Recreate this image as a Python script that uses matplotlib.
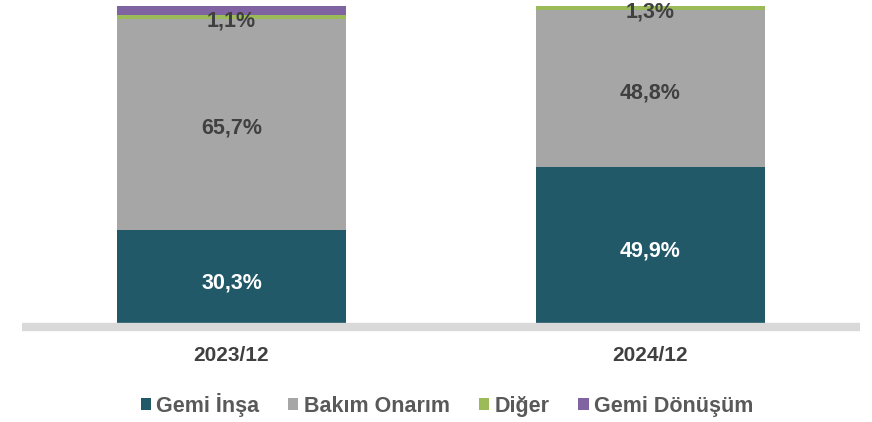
import numpy as np
import matplotlib.pyplot as plt
from matplotlib.patches import Patch

plt.rcParams['font.family'] = ['Liberation Sans', 'DejaVu Sans']

periods = ['2023/12', '2024/12']
series = ['Gemi İnşa', 'Bakım Onarım', 'Diğer', 'Gemi Dönüşüm']
gemi_insa = [30.3, 49.9]
bakim_onarim = [65.7, 48.8]
diger = [1.1, 1.3]
gemi_donusum = [2.9, 0.0]

colors = ['#215968', '#A6A6A6', '#9BBB59', '#8064A2']
label_colors = ['white', '#404040', '#404040', None]

fig = plt.figure(figsize=(8.72, 4.22), dpi=100)
ax = fig.add_axes([22 / 872, 95 / 422, 838 / 872, 321 / 422])

x = np.arange(len(periods))
bottom = np.zeros(len(periods))
for name, vals, col, lc in zip(series, [gemi_insa, bakim_onarim, diger, gemi_donusum], colors, label_colors):
    vals = np.array(vals)
    ax.bar(x, vals, 0.548, bottom=bottom, color=col, zorder=2)
    if lc is not None:
        for xi, v, b in zip(x, vals, bottom):
            ax.annotate(f'{v:.1f}%'.replace('.', ','), (xi, b + v / 2), xytext=(0, -3),
                        textcoords='offset points', ha='center', va='center',
                        color=lc, fontsize=15.5, fontweight='bold', zorder=3,
                        annotation_clip=False)
    bottom += vals

ax.set_xlim(-0.5, 1.5)
ax.set_ylim(0, 100)
ax.set_yticks([])
ax.set_xticks(x)
ax.set_xticklabels(periods, fontsize=15, fontweight='bold', color='#404040')
ax.tick_params(axis='x', length=0, pad=14)
for s in ['top', 'right', 'left']:
    ax.spines[s].set_visible(False)
ax.spines['bottom'].set_color('#D9D9D9')
ax.spines['bottom'].set_linewidth(6)
ax.spines['bottom'].set_capstyle('butt')

handles = [Patch(facecolor=c, edgecolor='none') for c in colors]
fig.legend(handles, series, loc='center', bbox_to_anchor=(0.5 + 11 / 872, 17 / 422), ncol=4,
           frameon=False, prop={'size': 15.5, 'weight': 'bold'}, labelcolor='#595959',
           handlelength=0.47, handleheight=0.47, handletextpad=0.25, columnspacing=1.35)

fig.savefig('out.png', dpi=100)
